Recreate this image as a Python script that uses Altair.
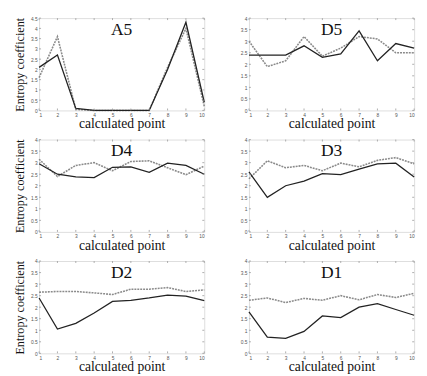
import altair as alt
import pandas as pd

points = list(range(1, 11))
panel_names = ["A5", "D5", "D4", "D3", "D2", "D1"]
solid = {
    "A5": [2.1, 2.7, 0.1, 0.0, 0.0, 0.0, 0.0, 2.0, 4.3, 0.4],
    "D5": [2.4, 2.4, 2.4, 2.8, 2.3, 2.45, 3.45, 2.15, 2.9, 2.7],
    "D4": [2.95, 2.5, 2.38, 2.35, 2.8, 2.82, 2.58, 2.98, 2.88, 2.5],
    "D3": [2.6, 1.5, 2.0, 2.2, 2.52, 2.48, 2.72, 2.95, 2.98, 2.38],
    "D2": [2.4, 1.05, 1.3, 1.75, 2.25, 2.3, 2.4, 2.52, 2.48, 2.28],
    "D1": [1.8, 0.7, 0.65, 0.95, 1.62, 1.55, 2.0, 2.15, 1.9, 1.65],
}
dotted = {
    "A5": [1.6, 3.6, 0.05, 0.0, 0.0, 0.0, 0.0, 2.1, 4.0, 0.2],
    "D5": [3.0, 1.9, 2.15, 3.2, 2.35, 2.7, 3.2, 3.1, 2.5, 2.5],
    "D4": [3.15, 2.4, 2.88, 3.0, 2.65, 3.05, 3.08, 2.78, 2.48, 2.85],
    "D3": [2.3, 3.08, 2.78, 2.88, 2.65, 2.98, 2.82, 3.1, 3.22, 2.95],
    "D2": [2.65, 2.68, 2.68, 2.62, 2.55, 2.78, 2.78, 2.85, 2.68, 2.75],
    "D1": [2.3, 2.4, 2.2, 2.38, 2.3, 2.5, 2.32, 2.55, 2.42, 2.6],
}
y_max = {"A5": 4.5, "D5": 4, "D4": 4, "D3": 4, "D2": 4, "D1": 4}
x_label = "calculated point"
y_label = "Entropy coefficient"

W, H = 170, 95
SERIF = "Liberation Serif"
TICK = 2
TICK_COLOR = "#999"


def panel(name, left):
    top = y_max[name]
    ticks = [i * 0.5 for i in range(int(top / 0.5) + 1)]
    df_s = pd.DataFrame({"x": points, "y": solid[name]})
    df_d = pd.DataFrame({"x": points, "y": dotted[name]})
    xscale = alt.Scale(domain=[1, 10], nice=False)
    yscale = alt.Scale(domain=[0, top], nice=False)
    xaxis = alt.Axis(values=points, title=x_label, labelFontSize=5,
                     labelColor="#555", tickSize=1, tickOpacity=0,
                     labelOverlap=False, labelPadding=1,
                     titleFont=SERIF, titleFontSize=14,
                     titleFontWeight="normal", titlePadding=0,
                     titleColor="#111", domain=False, grid=False)
    yaxis = alt.Axis(values=ticks, title=y_label if left else "",
                     labelExpr="'' + datum.value", labelFontSize=5,
                     labelColor="#555", tickSize=1, tickOpacity=0,
                     labelOverlap=False, labelPadding=1,
                     titleFont=SERIF, titleFontSize=12.5,
                     titleFontWeight="normal", titlePadding=4,
                     titleColor="#111", domain=False, grid=False)
    xenc = alt.X("x:Q", scale=xscale, axis=xaxis)
    yenc = alt.Y("y:Q", scale=yscale, axis=yaxis)
    dot = alt.Chart(df_d).mark_line(color="#8a8a8a", strokeWidth=1.6,
                                    strokeDash=[2, 1]).encode(x=xenc, y=yenc)
    sol = alt.Chart(df_s).mark_line(color="#222222", strokeWidth=1.3).encode(
        x=xenc, y=yenc)
    # inward MATLAB-style tick marks (same axis spec so the merged axis is kept)
    xt = pd.DataFrame({"x": points})
    yt = pd.DataFrame({"y": ticks})
    xt_bot = alt.Chart(xt).mark_rule(color=TICK_COLOR, strokeWidth=0.8).encode(
        x=xenc, y=alt.value(H), y2=alt.value(H - TICK))
    xt_top = alt.Chart(xt).mark_rule(color=TICK_COLOR, strokeWidth=0.8).encode(
        x=xenc, y=alt.value(0), y2=alt.value(TICK))
    yt_l = alt.Chart(yt).mark_rule(color=TICK_COLOR, strokeWidth=0.8).encode(
        y=yenc, x=alt.value(0), x2=alt.value(TICK))
    yt_r = alt.Chart(yt).mark_rule(color=TICK_COLOR, strokeWidth=0.8).encode(
        y=yenc, x=alt.value(W), x2=alt.value(W - TICK))
    ttl = alt.Chart(pd.DataFrame({"t": [name]})).mark_text(
        font=SERIF, fontSize=18, color="#111", baseline="top").encode(
        text="t:N", x=alt.value(W / 2), y=alt.value(3))
    return alt.layer(dot, sol, xt_bot, xt_top, yt_l, yt_r, ttl).properties(
        width=W, height=H)


panels = [panel(n, i % 2 == 0) for i, n in enumerate(panel_names)]

chart = alt.concat(*panels, columns=2,
                   spacing={"row": 30, "column": 46}, bounds="flush").properties(
    padding={"left": 5, "top": 2, "right": 1, "bottom": 0}
).configure_view(stroke="#aaaaaa", strokeWidth=1).configure(
    background="white")

chart.save("out.html", embed_options={"renderer": "svg", "actions": False})
